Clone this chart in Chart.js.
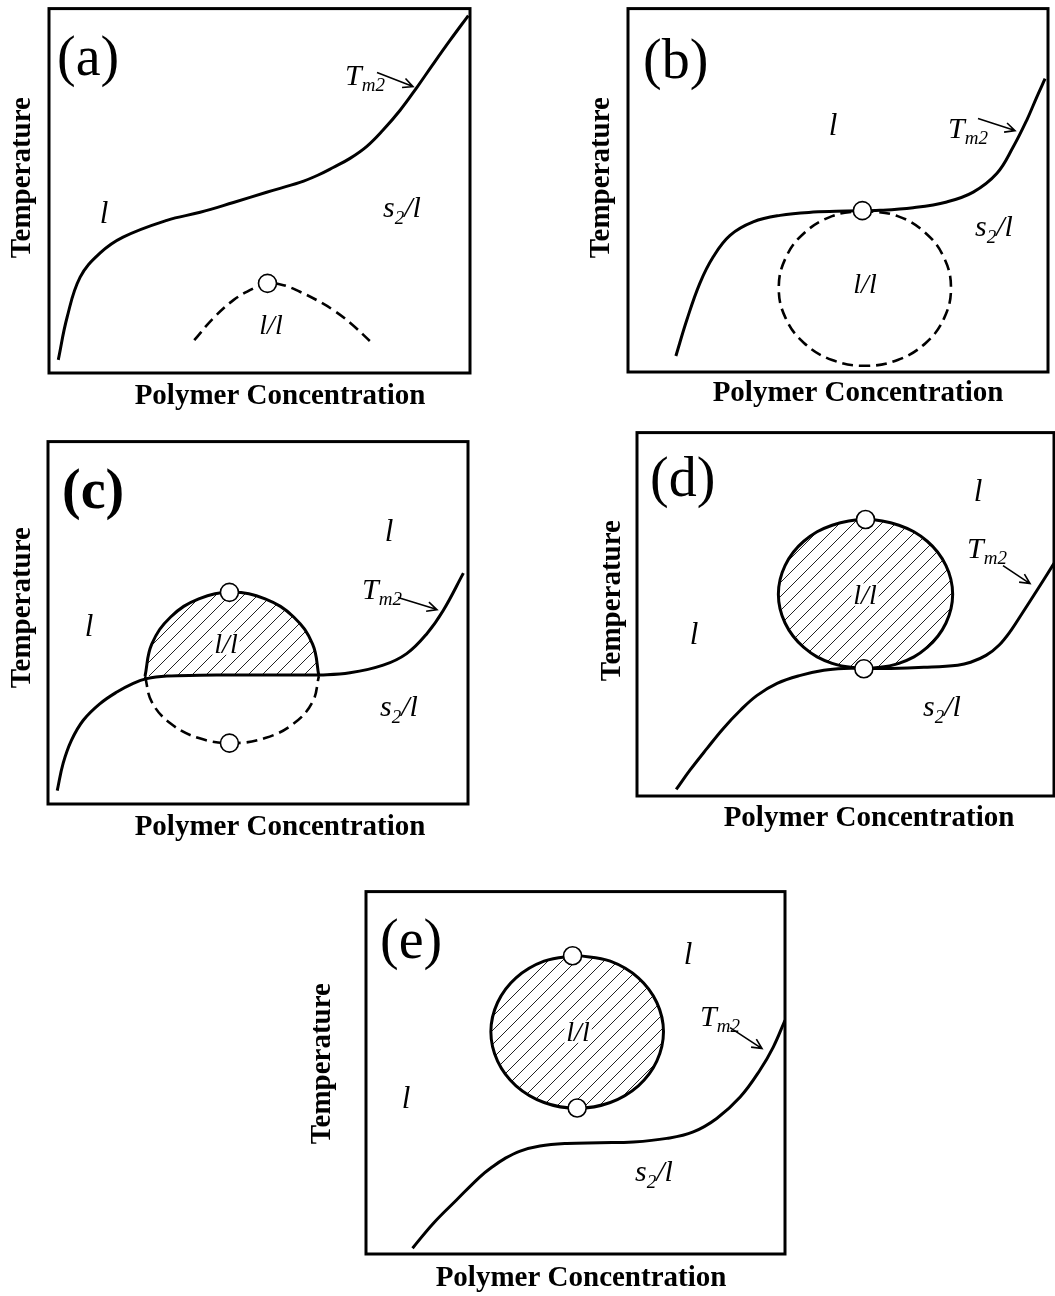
<!DOCTYPE html>
<html>
<head>
<meta charset="utf-8">
<title>Phase diagrams</title>
<script src="https://cdn.jsdelivr.net/npm/chart.js@4.4.1/dist/chart.umd.min.js"></script>
<style>
  html, body { margin: 0; padding: 0; background: #fff; overflow: hidden; }
  body { width: 1055px; height: 1296px; position: relative; }
  canvas.panel { position: absolute; }
</style>
</head>
<body>
<canvas id="pa" class="panel"></canvas>
<canvas id="pb" class="panel"></canvas>
<canvas id="pc" class="panel"></canvas>
<canvas id="pd" class="panel"></canvas>
<canvas id="pe" class="panel"></canvas>
<script>
/* Schematic T–c phase diagrams (a)–(e): Tm2 melting curve, l/l binodal, critical points.
   Axis units: concentration 0–100 left to right, temperature 0–100 bottom to top. */

// (a) binodal well below the melting curve
const aMeltX = [2.2, 4.3, 7.4, 12.1, 17.6, 28.0, 35.9, 43.8, 51.7, 59.6, 63.7, 67.5, 71.5, 75.5, 79.3, 83.4, 87.4, 91.2, 95.2, 99.6];
const aMeltY = [3.6, 15.3, 26.3, 32.9, 37.3, 41.9, 44.1, 46.8, 49.6, 52.3, 54.2, 56.4, 58.9, 62.2, 66.6, 72.1, 78.4, 84.7, 91.2, 98.1];
const aBinX = [34.5, 39.0, 43.8, 48.5, 51.9, 55.7, 59.6, 63.6, 67.5, 71.5, 76.2];
const aBinY = [9.0, 15.0, 20.0, 23.2, 24.6, 24.1, 22.3, 20.0, 17.3, 13.8, 8.8];
const aCritX = [51.9];
const aCritY = [24.6];

// (b) binodal touching the melting curve from below
const bMeltX = [11.4, 14.0, 17.1, 20.3, 24.3, 29.8, 36.2, 44.1, 52.1, 60.0, 67.9, 75.9, 82.2, 87.8, 91.7, 94.9, 97.3, 99.3];
const bMeltY = [4.4, 14.3, 24.4, 31.7, 37.6, 41.3, 43.1, 44.0, 44.3, 44.5, 45.2, 46.8, 49.5, 54.6, 61.9, 69.2, 75.6, 80.7];
const bBinX = [55.8, 64.2, 70.9, 75.3, 76.9, 75.3, 70.9, 64.2, 56.4, 48.6, 41.9, 37.5, 35.9, 37.5, 41.9, 48.6, 55.8];
const bBinY = [44.5, 42.9, 38.2, 31.3, 23.1, 14.9, 8.0, 3.3, 1.7, 3.3, 8.0, 14.9, 23.1, 31.3, 38.2, 42.9, 44.5];
const bCritX = [55.8];
const bCritY = [44.4];

// (c) binodal cut by the melting curve: stable upper part, metastable lower part
const cMeltX = [2.2, 3.6, 5.6, 8.4, 12.4, 16.4, 20.3, 23.5, 28.3, 36.2, 44.1, 52.1, 60.0, 64.8, 71.9, 79.8, 85.4, 90.2, 94.1, 98.9];
const cMeltY = [3.7, 11.2, 17.6, 23.1, 27.7, 30.9, 33.3, 34.6, 35.3, 35.5, 35.6, 35.6, 35.6, 35.6, 36.2, 38.3, 41.5, 47.0, 53.4, 63.7];
const cUpperX = [23.1, 24.7, 29.2, 35.9, 43.8, 51.7, 58.5, 63.0, 64.5];
const cUpperY = [35.3, 44.1, 51.6, 56.6, 58.4, 56.6, 51.6, 44.1, 35.3];
const cLowerX = [23.1, 24.7, 29.2, 35.9, 43.8, 51.7, 58.5, 63.0, 64.5];
const cLowerY = [35.3, 28.2, 22.2, 18.2, 16.8, 18.2, 22.2, 28.2, 35.3];
const cCritX = [43.2, 43.2];
const cCritY = [58.4, 16.8];

// (d) binodal resting on the melting curve
const dMeltX = [9.4, 12.7, 16.8, 20.7, 24.8, 28.8, 33.6, 39.2, 44.8, 49.6, 54.4, 60.8, 68.8, 76.9, 80.0, 83.7, 86.8, 89.7, 92.5, 96.2, 100];
const dMeltY = [1.8, 7.1, 13.1, 18.6, 23.6, 27.7, 31.0, 33.2, 34.6, 35.1, 35.1, 35.1, 35.4, 36.0, 36.8, 38.7, 41.5, 45.6, 50.5, 57.1, 64.0];
const dBinX = [54.8, 62.8, 69.6, 74.1, 75.7, 74.1, 69.6, 62.8, 54.8, 46.8, 40.0, 35.5, 33.9, 35.5, 40.0, 46.8, 54.8];
const dBinY = [34.9, 36.5, 40.9, 47.6, 55.5, 63.4, 70.1, 74.5, 76.1, 74.5, 70.1, 63.4, 55.5, 47.6, 40.9, 36.5, 34.9];
const dCritX = [54.8, 54.4];
const dCritY = [76.1, 35.0];

// (e) closed binodal fully above the melting curve
const eMeltX = [11.1, 16.1, 21.6, 27.2, 30.1, 33.2, 36.8, 41.5, 47.9, 55.8, 63.8, 71.8, 78.1, 83.7, 89.3, 94.0, 97.2, 100];
const eMeltY = [1.6, 8.5, 14.9, 21.3, 24.0, 26.4, 28.4, 29.8, 30.5, 30.7, 30.9, 31.9, 33.7, 37.4, 43.3, 50.7, 57.1, 64.5];
const eBinX = [50.4, 58.3, 65.0, 69.4, 71.0, 69.4, 65.0, 58.3, 50.4, 42.5, 35.8, 31.4, 29.8, 31.4, 35.8, 42.5, 50.4];
const eBinY = [82.4, 80.8, 76.2, 69.4, 61.3, 53.2, 46.4, 41.8, 40.2, 41.8, 46.4, 53.2, 61.3, 69.4, 76.2, 80.8, 82.4];
const eCritX = [49.3, 50.4];
const eCritY = [82.3, 40.3];

const SERIF = '"Liberation Serif", "Times New Roman", serif';
const PAD = { left: 60, top: 10, right: 12, bottom: 48 };

// italic text runs: [text, font size, baseline shift]
const L_RUN = [['l', 31, 0]];
const LL_RUN = [['l/l', 28, 0]];
const TM2_RUN = [['T', 30, 0], ['m2', 19, 6]];
const S2L_RUN = [['s', 30, 0], ['2', 19, 7], ['/l', 30, 0]];

function pts(xs, ys) {
  return xs.map(function (x, i) {
    return { x: x, y: ys[i] };
  });
}

function hatchPattern() {
  const c = document.createElement('canvas');
  const s = 14;
  c.width = s;
  c.height = s;
  const g = c.getContext('2d');
  g.strokeStyle = '#222';
  g.lineWidth = 1;
  g.beginPath();
  g.moveTo(-1, s + 1); g.lineTo(s + 1, -1);
  g.moveTo(-1, 1); g.lineTo(1, -1);
  g.moveTo(s - 1, s + 1); g.lineTo(s + 1, s - 1);
  g.stroke();
  return g.createPattern(c, 'repeat');
}
const hatch = hatchPattern();

function meltCurve(xs, ys) {
  return {
    data: pts(xs, ys), borderColor: '#000', borderWidth: 3,
    pointRadius: 0, pointHoverRadius: 0,
    tension: 0.4, fill: false, order: 2,
  };
}

function binodal(xs, ys, dashed, hatched) {
  return {
    data: pts(xs, ys), borderColor: '#000', borderWidth: dashed ? 2.6 : 3,
    borderDash: dashed ? [11, 6] : [], tension: 0.4,
    pointRadius: 0, pointHoverRadius: 0,
    fill: hatched ? 'shape' : false,
    backgroundColor: hatched ? hatch : 'rgba(0,0,0,0)',
    order: 3,
  };
}

function critical(xs, ys) {
  return {
    data: pts(xs, ys), showLine: false,
    pointRadius: 9, pointHoverRadius: 9,
    pointBackgroundColor: '#fff', pointBorderColor: '#000', pointBorderWidth: 1.6,
    order: 0,
  };
}

const panels = [
  {
    id: 'pa', box: [49, 8, 470, 373], tag: '(a)', tagBold: false, tagAt: [8, 66],
    datasets: [critical(aCritX, aCritY), meltCurve(aMeltX, aMeltY), binodal(aBinX, aBinY, true, false)],
    labels: [
      { runs: L_RUN, at: [55, 214], center: true },
      { runs: S2L_RUN, at: [334, 208] },
      { runs: TM2_RUN, at: [296, 76] },
      { runs: LL_RUN, at: [222, 325], center: true },
    ],
    arrow: [[328, 64], [364, 78]], tempAt: [-26, 169], concAt: [231, 395],
  },
  {
    id: 'pb', box: [628, 8, 1048, 372], tag: '(b)', tagBold: false, tagAt: [15, 69],
    datasets: [critical(bCritX, bCritY), meltCurve(bMeltX, bMeltY), binodal(bBinX, bBinY, true, false)],
    labels: [
      { runs: L_RUN, at: [205, 126], center: true },
      { runs: TM2_RUN, at: [320, 129] },
      { runs: S2L_RUN, at: [347, 227] },
      { runs: LL_RUN, at: [237, 284], center: true },
    ],
    arrow: [[350, 110], [387, 122]], tempAt: [-26, 169], concAt: [230, 392],
  },
  {
    id: 'pc', box: [48, 441, 468, 804], tag: '(c)', tagBold: true, tagAt: [14, 66],
    datasets: [
      critical(cCritX, cCritY), meltCurve(cMeltX, cMeltY),
      binodal(cUpperX, cUpperY, false, true), binodal(cLowerX, cLowerY, true, false),
    ],
    labels: [
      { runs: L_RUN, at: [341, 99], center: true },
      { runs: L_RUN, at: [41, 194], center: true },
      { runs: TM2_RUN, at: [314, 157] },
      { runs: S2L_RUN, at: [332, 274] },
      { runs: LL_RUN, at: [178, 211], center: true, knock: true },
    ],
    arrow: [[350, 156], [389, 168]], tempAt: [-25, 166], concAt: [232, 393],
  },
  {
    id: 'pd', box: [637, 432, 1054, 796], tag: '(d)', tagBold: false, tagAt: [13, 63],
    datasets: [critical(dCritX, dCritY), meltCurve(dMeltX, dMeltY), binodal(dBinX, dBinY, false, true)],
    labels: [
      { runs: L_RUN, at: [341, 68], center: true },
      { runs: L_RUN, at: [57, 211], center: true },
      { runs: TM2_RUN, at: [330, 125] },
      { runs: S2L_RUN, at: [286, 283] },
      { runs: LL_RUN, at: [228, 171], center: true, knock: true },
    ],
    arrow: [[366, 133], [393, 151]], tempAt: [-24, 168], concAt: [232, 393],
  },
  {
    id: 'pe', box: [366, 891, 785, 1254], tag: '(e)', tagBold: false, tagAt: [14, 66],
    datasets: [critical(eCritX, eCritY), meltCurve(eMeltX, eMeltY), binodal(eBinX, eBinY, false, true)],
    labels: [
      { runs: L_RUN, at: [322, 72], center: true },
      { runs: L_RUN, at: [40, 216], center: true },
      { runs: TM2_RUN, at: [334, 134] },
      { runs: S2L_RUN, at: [269, 289] },
      { runs: LL_RUN, at: [212, 149], center: true, knock: true },
    ],
    arrow: [[364, 136], [396, 157]], tempAt: [-43, 172], concAt: [215, 394],
  },
];

function runsWidth(ctx, runs) {
  let w = 0;
  runs.forEach(function (r) {
    ctx.font = 'italic ' + r[1] + 'px ' + SERIF;
    w += ctx.measureText(r[0]).width;
  });
  return w;
}

function drawRuns(ctx, x, y, runs, center, knock) {
  const w = runsWidth(ctx, runs);
  let cx = center ? x - w / 2 : x;
  if (knock) {
    ctx.fillStyle = '#fff';
    ctx.fillRect(cx - 2, y - runs[0][1] * 0.72, w + 4, runs[0][1] * 0.8);
  }
  ctx.fillStyle = '#000';
  runs.forEach(function (r) {
    ctx.font = 'italic ' + r[1] + 'px ' + SERIF;
    ctx.fillText(r[0], cx, y + r[2]);
    cx += ctx.measureText(r[0]).width;
  });
}

function drawArrow(ctx, x1, y1, x2, y2) {
  const ang = Math.atan2(y2 - y1, x2 - x1);
  const h = 11;
  ctx.strokeStyle = '#000';
  ctx.lineWidth = 1.6;
  ctx.beginPath();
  ctx.moveTo(x1, y1);
  ctx.lineTo(x2, y2);
  ctx.moveTo(x2 - h * Math.cos(ang - 0.45), y2 - h * Math.sin(ang - 0.45));
  ctx.lineTo(x2, y2);
  ctx.lineTo(x2 - h * Math.cos(ang + 0.45), y2 - h * Math.sin(ang + 0.45));
  ctx.stroke();
}

// frame, panel tag, region labels, Tm2 arrow and both axis titles
const figureNotes = {
  id: 'figureNotes',
  afterDraw: function (chart, _args, p) {
    const ctx = chart.ctx;
    const a = chart.chartArea;
    ctx.save();
    ctx.textAlign = 'left';
    ctx.textBaseline = 'alphabetic';

    p.labels.forEach(function (lb) {
      drawRuns(ctx, a.left + lb.at[0], a.top + lb.at[1], lb.runs, lb.center, lb.knock);
    });
    drawArrow(ctx, a.left + p.arrow[0][0], a.top + p.arrow[0][1], a.left + p.arrow[1][0], a.top + p.arrow[1][1]);

    ctx.fillStyle = '#000';
    ctx.font = (p.tagBold ? 'bold ' : '') + '56px ' + SERIF;
    ctx.fillText(p.tag, a.left + p.tagAt[0], a.top + p.tagAt[1]);

    ctx.font = 'bold 29px ' + SERIF;
    ctx.textAlign = 'center';
    ctx.fillText('Polymer Concentration', a.left + p.concAt[0], a.top + p.concAt[1]);
    ctx.save();
    ctx.translate(a.left + p.tempAt[0], a.top + p.tempAt[1]);
    ctx.rotate(-Math.PI / 2);
    ctx.textBaseline = 'middle';
    ctx.fillText('Temperature', 0, 0);
    ctx.restore();

    ctx.lineWidth = 3;
    ctx.strokeStyle = '#000';
    ctx.setLineDash([]);
    ctx.strokeRect(a.left, a.top, a.right - a.left, a.bottom - a.top);
    ctx.restore();
  },
};

panels.forEach(function (p) {
  const L = p.box[0], T = p.box[1], R = p.box[2], B = p.box[3];
  const cv = document.getElementById(p.id);
  cv.width = R - L + PAD.left + PAD.right;
  cv.height = B - T + PAD.top + PAD.bottom;
  cv.style.left = L - PAD.left + 'px';
  cv.style.top = T - PAD.top + 'px';

  new Chart(cv, {
    type: 'line',
    data: { datasets: p.datasets },
    plugins: [figureNotes],
    options: {
      responsive: false,
      animation: false,
      events: [],
      layout: { padding: PAD },
      scales: {
        x: { type: 'linear', min: 0, max: 100, display: false },
        y: { type: 'linear', min: 0, max: 100, display: false },
      },
      plugins: {
        legend: { display: false },
        tooltip: { enabled: false },
        figureNotes: p,
      },
    },
  });
});
</script>
</body>
</html>
